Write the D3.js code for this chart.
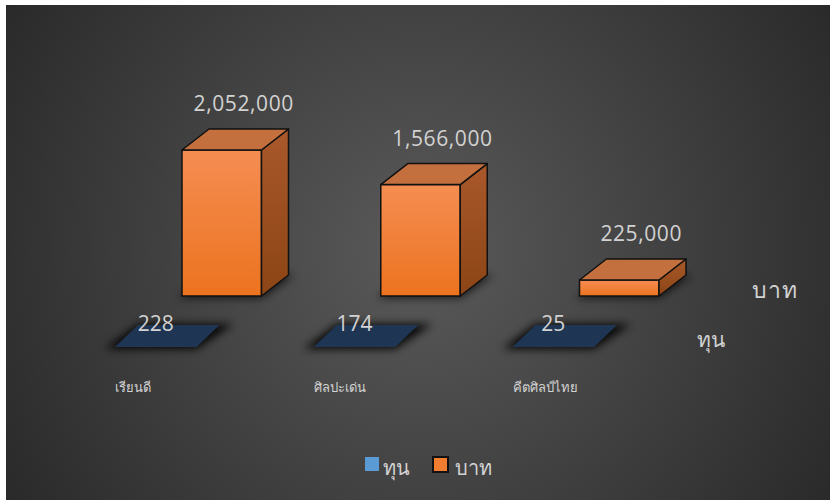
<!DOCTYPE html>
<html>
<head>
<meta charset="utf-8">
<script src="https://cdn.jsdelivr.net/npm/d3@7"></script>
<style>
  body { margin: 0; background: #fff; }
  text { font-family: "Open Sans", "Noto Sans", sans-serif; }
</style>
</head>
<body>
<svg id="chart" width="830" height="500"></svg>
<script>
// data
var categories = ["เรียนดี", "ศิลปะเด่น", "คีตศิลป์ไทย"];
var tunValues = [228, 174, 25];
var bahtValues = [2052000, 1566000, 225000];
var seriesNames = ["ทุน", "บาท"];

var W = 830, H = 500;
var svg = d3.select("#chart");
var defs = svg.append("defs");

// background
var bg = defs.append("radialGradient").attr("id", "bg")
    .attr("gradientUnits", "userSpaceOnUse")
    .attr("cx", 420).attr("cy", 250).attr("r", 520);
bg.append("stop").attr("offset", 0).attr("stop-color", "#5a5a5a");
bg.append("stop").attr("offset", 1).attr("stop-color", "#262626");

var front = defs.append("linearGradient").attr("id", "front")
    .attr("x1", 0).attr("y1", 0).attr("x2", 0).attr("y2", 1);
front.append("stop").attr("offset", 0).attr("stop-color", "#f58d52");
front.append("stop").attr("offset", 1).attr("stop-color", "#ec731f");

var side = defs.append("linearGradient").attr("id", "side")
    .attr("x1", 0).attr("y1", 0).attr("x2", 0).attr("y2", 1);
side.append("stop").attr("offset", 0).attr("stop-color", "#a9582a");
side.append("stop").attr("offset", 1).attr("stop-color", "#8c4516");

var sh = defs.append("filter").attr("id", "shadow")
    .attr("x", "-30%").attr("y", "-40%").attr("width", "160%").attr("height", "180%");
sh.append("feGaussianBlur").attr("in", "SourceAlpha").attr("stdDeviation", 4);

svg.append("rect").attr("x", 6).attr("y", 5).attr("width", W - 6).attr("height", H - 5)
    .attr("fill", "url(#bg)");

// scales
var x = d3.scaleBand().domain(categories).range([182, 659]).paddingInner(0.6).paddingOuter(0);
var y = d3.scaleLinear().domain([0, 2052000]).range([0, 146]);
var base = 296;          // front bottom edge of the back row
var dx = 27, dy = -21;   // depth offset of a bar
var rowDx = -67, rowDy = 51;  // offset of the front row (ทุน)
var labelColor = "#d2d2d2";

function pts(a) { return a.map(function(p) { return p.join(","); }).join(" "); }

// back row: บาท
var bars = svg.append("g");
bahtValues.forEach(function(v, i) {
  var x0 = x(categories[i]), w = x.bandwidth(), h = y(v);
  var top = base - h;
  var g = bars.append("g");
  // shadow
  g.append("polygon")
    .attr("points", pts([[x0 - 4, base + 2], [x0 + w, base + 2], [x0 + w + dx + 6, base + dy], [x0 + dx, base + dy]]))
    .attr("fill", "#000").attr("opacity", 0.7).attr("filter", "url(#shadow)");
  g.append("rect").attr("x", x0).attr("y", top).attr("width", w).attr("height", h)
    .attr("fill", "url(#front)").attr("stroke", "#111").attr("stroke-width", 1.5);
  g.append("polygon")
    .attr("points", pts([[x0 + w, top], [x0 + w + dx, top + dy], [x0 + w + dx, base + dy], [x0 + w, base]]))
    .attr("fill", "url(#side)").attr("stroke", "#111").attr("stroke-width", 1.5).attr("stroke-linejoin", "round");
  g.append("polygon")
    .attr("points", pts([[x0, top], [x0 + dx, top + dy], [x0 + w + dx, top + dy], [x0 + w, top]]))
    .attr("fill", "#c3703e").attr("stroke", "#111").attr("stroke-width", 1.5).attr("stroke-linejoin", "round");
  svg.append("text")
    .attr("x", x0 + w / 2 + 22).attr("y", top + dy - 18)
    .attr("text-anchor", "middle").attr("fill", labelColor).attr("font-size", 21)
    .attr("letter-spacing", 0.6)
    .text(d3.format(",")(v));
});

// front row: ทุน (too small to show height on this scale)
var tdx = 23, tdy = -22;
tunValues.forEach(function(v, i) {
  var x0 = x(categories[i]) + rowDx, w = x.bandwidth() + 2, b = base + rowDy;
  var h = y(v);
  var quad = [[x0, b - h], [x0 + tdx, b - h + tdy], [x0 + w + tdx, b - h + tdy], [x0 + w, b - h]];
  svg.append("polygon").attr("points", pts([[x0 - 10, b + 2], [x0 + tdx, b + tdy - 1], [x0 + w + tdx + 14, b + tdy - 1], [x0 + w, b + 2]]))
    .attr("fill", "#000").attr("opacity", 0.9).attr("filter", "url(#shadow)");
  svg.append("polygon").attr("points", pts(quad)).attr("fill", "#1e3653");
  svg.append("text")
    .attr("x", x0 + w / 2).attr("y", b + tdy + 6)
    .attr("text-anchor", "middle").attr("fill", labelColor).attr("font-size", 21)
    .text(d3.format(",")(v));
});

// category labels
svg.selectAll(".cat").data(categories).enter().append("text")
  .attr("x", function(d) { return x(d) + rowDx; })
  .attr("y", 392)
  .attr("fill", labelColor).attr("font-size", 13)
  .text(function(d) { return d; });

// series (depth) axis labels
svg.append("text").attr("x", 752).attr("y", 298).attr("fill", labelColor).attr("font-size", 23).attr("letter-spacing", 1).text(seriesNames[1]);
svg.append("text").attr("x", 697).attr("y", 347).attr("fill", labelColor).attr("font-size", 21).text(seriesNames[0]);

// legend
var lg = svg.append("g");
lg.append("rect").attr("x", 365).attr("y", 457).attr("width", 14).attr("height", 14).attr("fill", "#5b9bd5");
lg.append("text").attr("x", 383).attr("y", 475).attr("fill", labelColor).attr("font-size", 20).text(seriesNames[0]);
lg.append("rect").attr("x", 433).attr("y", 457).attr("width", 15).attr("height", 15)
  .attr("fill", "#f07d30").attr("stroke", "#111").attr("stroke-width", 2);
lg.append("text").attr("x", 455).attr("y", 475).attr("fill", labelColor).attr("font-size", 20).text(seriesNames[1]);
</script>
</body>
</html>
